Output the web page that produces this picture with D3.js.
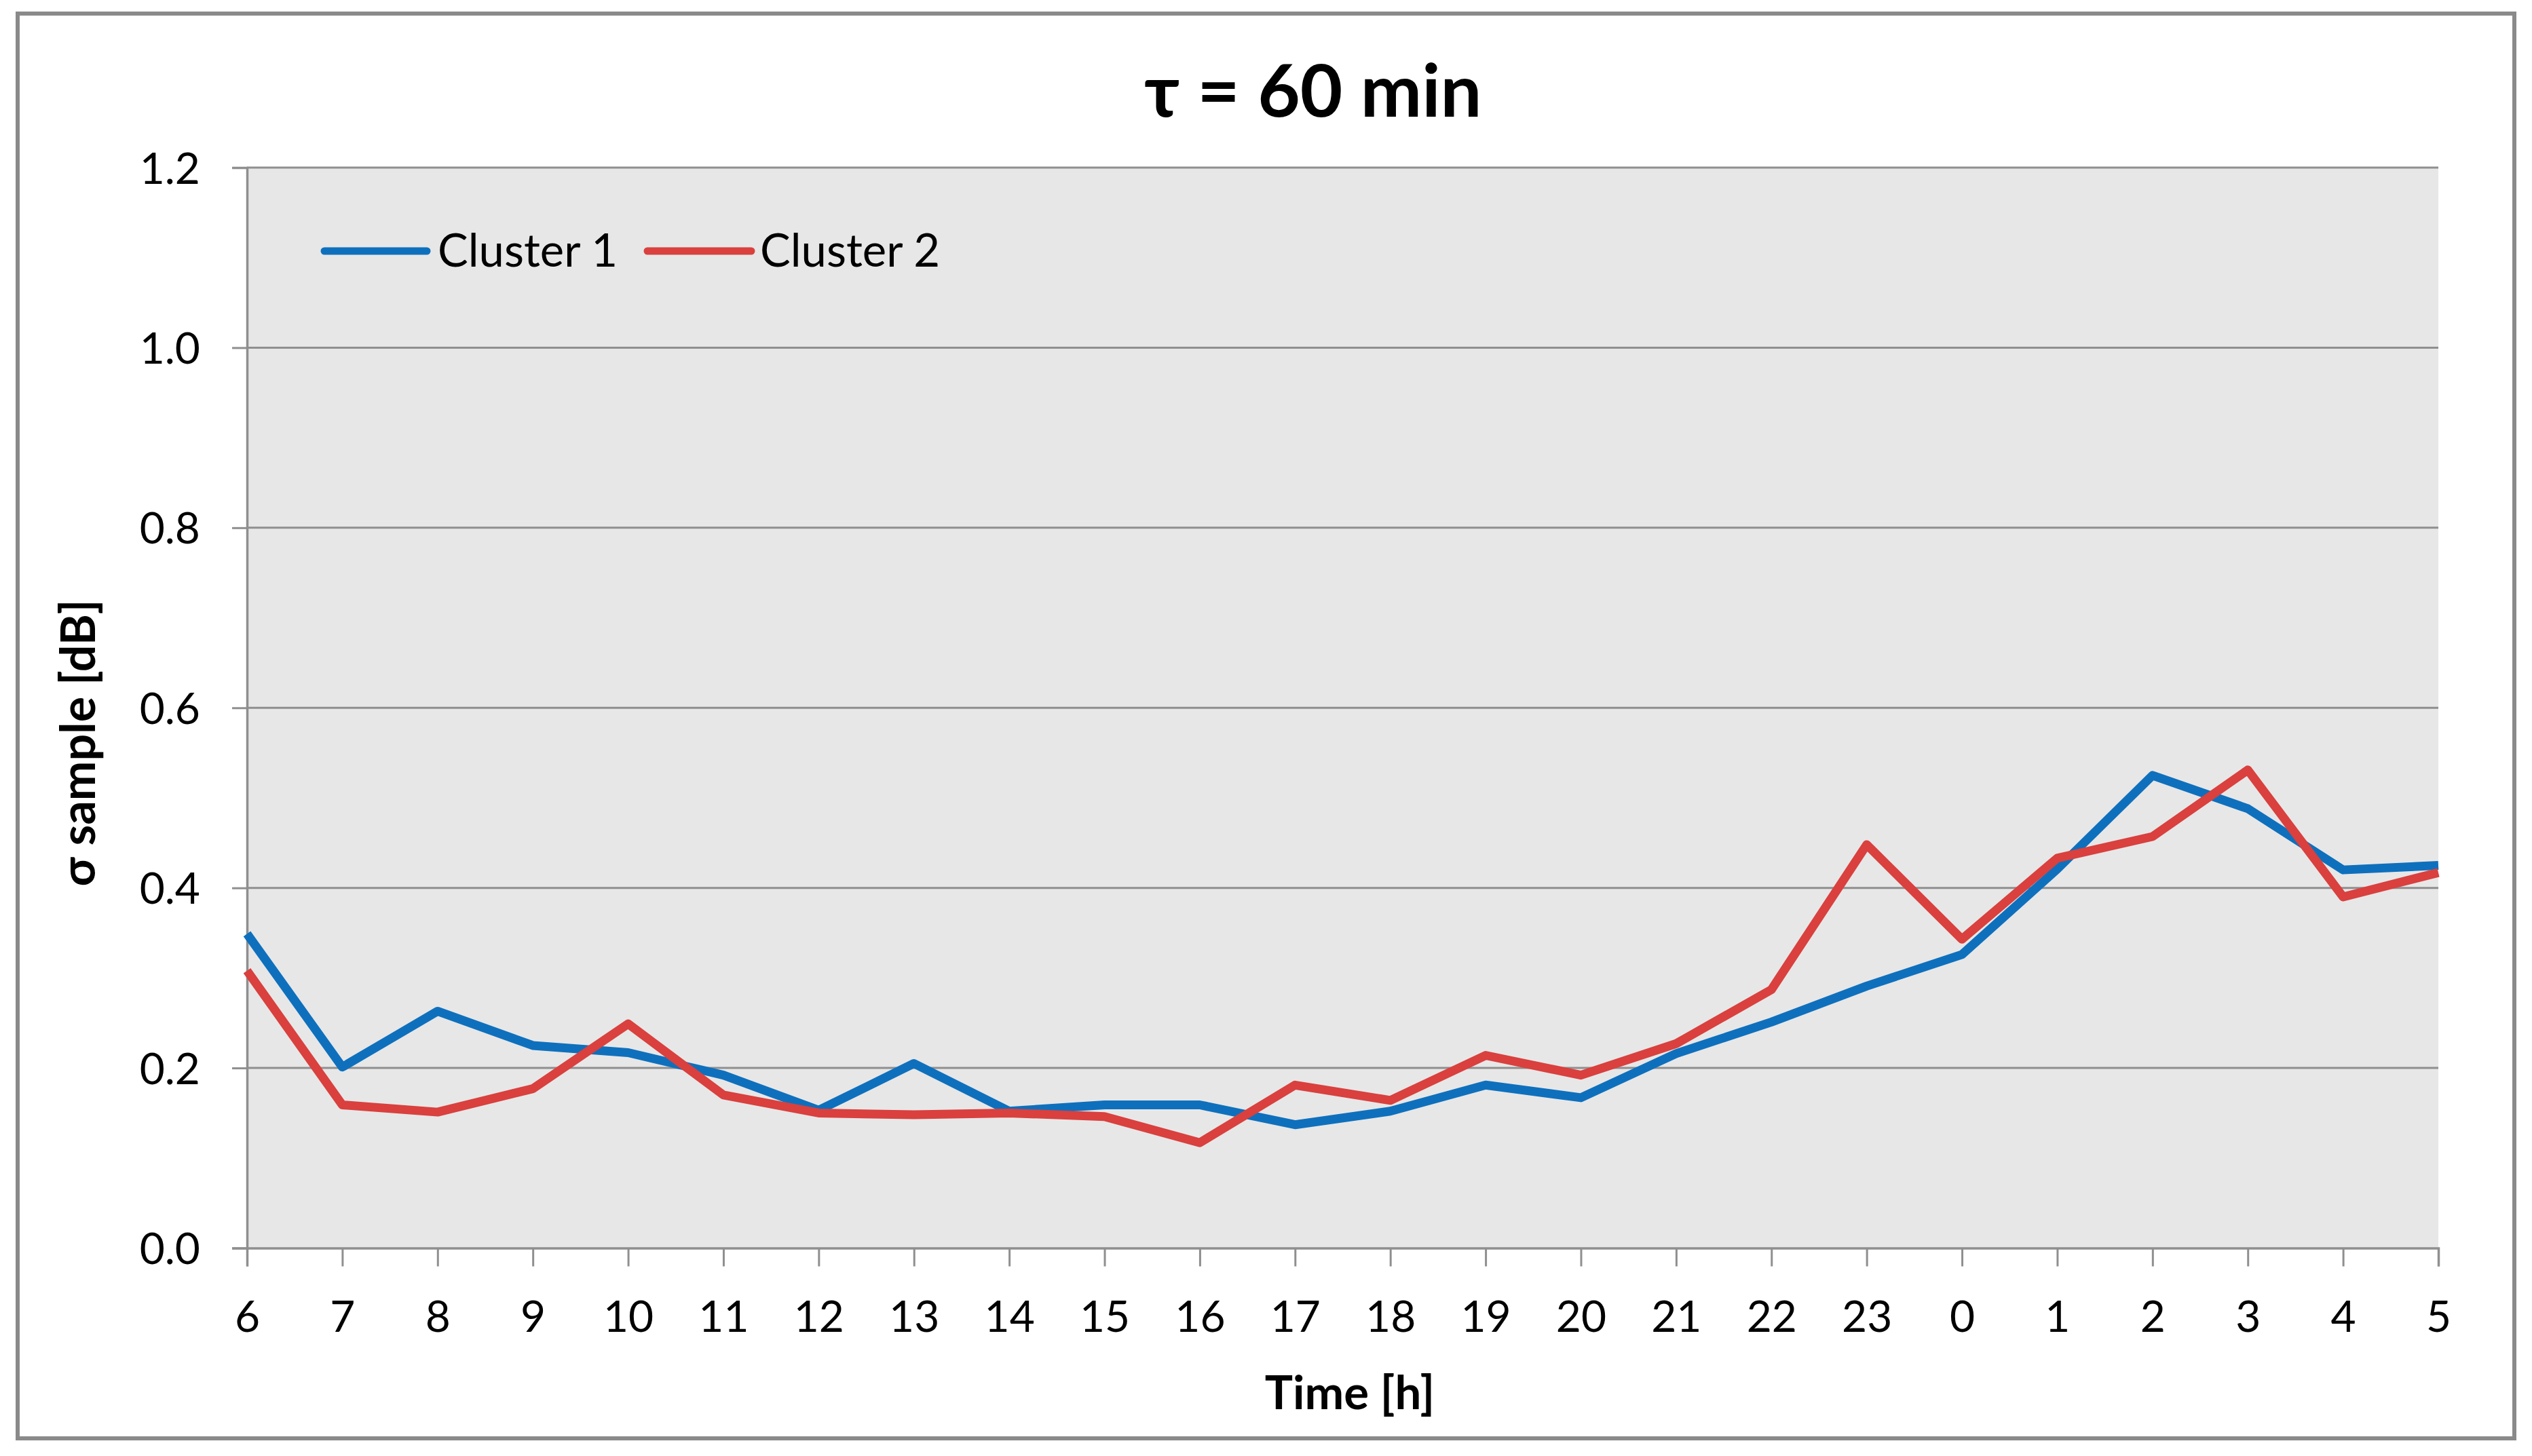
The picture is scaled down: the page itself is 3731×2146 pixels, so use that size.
<!DOCTYPE html>
<html>
<head>
<meta charset="utf-8">
<script src="https://cdn.jsdelivr.net/npm/d3@7"></script>
<style>
  html, body { margin: 0; padding: 0; background: #ffffff; }
  svg { display: block; }
  text { font-family: Lato, "Open Sans", "Noto Sans", sans-serif; fill: #000; }
</style>
</head>
<body>
<svg id="chart" width="3731" height="2146"></svg>
<script>
// ---- data ----
const hours = ["6","7","8","9","10","11","12","13","14","15","16","17","18","19","20","21","22","23","0","1","2","3","4","5"];
const cluster1 = [0.349, 0.201, 0.263, 0.225, 0.217, 0.192, 0.153, 0.205, 0.152, 0.159, 0.159, 0.137, 0.152, 0.181, 0.167, 0.216, 0.251, 0.291, 0.326, 0.421, 0.525, 0.488, 0.420, 0.425];
const cluster2 = [0.308, 0.159, 0.151, 0.177, 0.249, 0.170, 0.150, 0.148, 0.150, 0.146, 0.117, 0.181, 0.164, 0.214, 0.192, 0.227, 0.287, 0.448, 0.343, 0.433, 0.457, 0.531, 0.390, 0.417];
const seriesNames = ["Cluster 1", "Cluster 2"];
const yTicks = [0, 0.2, 0.4, 0.6, 0.8, 1.0, 1.2];
const titleText = "τ = 60 min";
const xTitle = "Time [h]";
const yTitle = "σ sample [dB]";

// ---- layout ----
const W = 3731, H = 2146;
const plot = { left: 364, right: 3593, top: 247, bottom: 1839.5 };
const colors = ["#0e70bd", "#d9403e"];
const gridColor = "#8f8f8f";

const svg = d3.select("#chart");
svg.append("rect").attr("x", 0).attr("y", 0).attr("width", W).attr("height", H).attr("fill", "#ffffff");

// outer frame
svg.append("rect")
  .attr("x", 26).attr("y", 20).attr("width", 3705 - 26).attr("height", 2120 - 20)
  .attr("fill", "#ffffff").attr("stroke", "#8a8a8a").attr("stroke-width", 6);

// scales
const x = d3.scalePoint().domain(hours).range([plot.left, plot.right]);
const y = d3.scaleLinear().domain([0, 1.2]).range([plot.bottom, plot.top]);

// plot background
svg.append("rect")
  .attr("x", plot.left).attr("y", plot.top)
  .attr("width", plot.right - plot.left).attr("height", plot.bottom - plot.top)
  .attr("fill", "#e7e7e7");

// gridlines
svg.append("g").selectAll("line").data(yTicks.filter(d => d > 0)).join("line")
  .attr("x1", plot.left).attr("x2", plot.right)
  .attr("y1", d => y(d)).attr("y2", d => y(d))
  .attr("stroke", gridColor).attr("stroke-width", 3);

// y axis
const yAxis = svg.append("g").attr("transform", `translate(${plot.left},0)`)
  .call(d3.axisLeft(y).tickValues(yTicks).tickSize(22).tickFormat(d3.format(".1f")));
yAxis.select(".domain").attr("stroke", gridColor).attr("stroke-width", 3.5);
yAxis.selectAll(".tick line").attr("stroke", gridColor).attr("stroke-width", 3);
yAxis.selectAll(".tick text")
  .attr("x", -69).attr("dy", 0).attr("y", 23)
  .attr("text-anchor", "end")
  .style("font-size", "64px").style("font-family", "Lato, 'Open Sans', sans-serif").attr("fill", "#000");

// x axis
const xAxis = svg.append("g").attr("transform", `translate(0,${plot.bottom})`)
  .call(d3.axisBottom(x).tickSize(27));
xAxis.select(".domain").attr("stroke", gridColor).attr("stroke-width", 3.5);
xAxis.selectAll(".tick line").attr("stroke", gridColor).attr("stroke-width", 3);
xAxis.selectAll(".tick text")
  .attr("y", 1963 - plot.bottom).attr("dy", 0)
  .style("font-size", "64px").style("font-family", "Lato, 'Open Sans', sans-serif").attr("fill", "#000");

// lines
const line = d3.line().x((d, i) => x(hours[i])).y(d => y(d));
[cluster1, cluster2].forEach((s, k) => {
  svg.append("path").datum(s)
    .attr("d", line)
    .attr("fill", "none")
    .attr("stroke", colors[k])
    .attr("stroke-width", 13)
    .attr("stroke-linejoin", "round")
    .attr("stroke-linecap", "butt");
});

// legend
const legendItems = [
  { name: seriesNames[0], color: colors[0], x1: 478, x2: 629, tx: 645 },
  { name: seriesNames[1], color: colors[1], x1: 954, x2: 1107, tx: 1120 }
];
const lg = svg.append("g");
legendItems.forEach(it => {
  lg.append("line").attr("x1", it.x1).attr("x2", it.x2).attr("y1", 370).attr("y2", 370)
    .attr("stroke", it.color).attr("stroke-width", 11).attr("stroke-linecap", "round");
  lg.append("text").attr("x", it.tx).attr("y", 393)
    .style("font-size", "67px").text(it.name);
});

// title
svg.append("text").attr("x", 1935).attr("y", 172).attr("text-anchor", "middle")
  .style("font-size", "108px").style("font-weight", "bold").text(titleText);

// axis titles
svg.append("text").attr("x", 1989).attr("y", 2077).attr("text-anchor", "middle")
  .style("font-size", "69px").style("font-weight", "bold").text(xTitle);
svg.append("text").attr("transform", "translate(140,1095) rotate(-90)").attr("text-anchor", "middle")
  .style("font-size", "70px").style("font-weight", "bold").text(yTitle);
</script>
</body>
</html>
